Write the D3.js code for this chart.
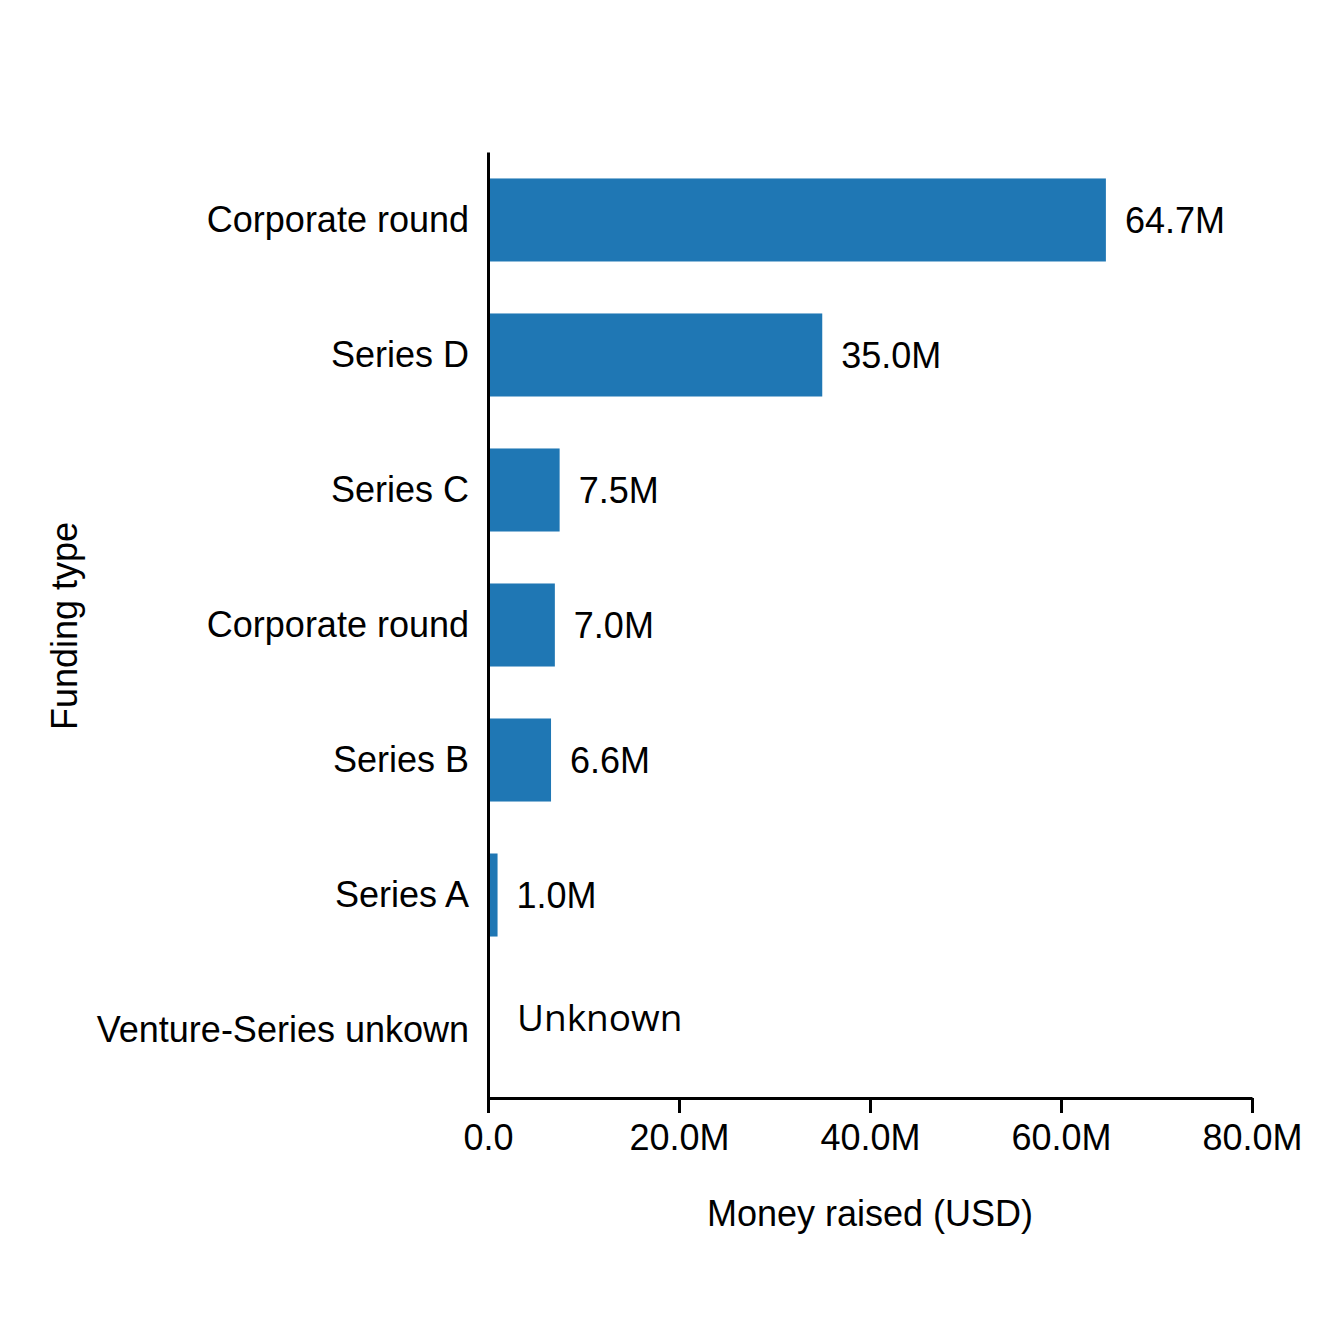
<!DOCTYPE html>
<html><head><meta charset="utf-8">
<script src="https://cdn.jsdelivr.net/npm/d3@7"></script>
<style>body{margin:0;background:#fff}svg{display:block}</style>
</head><body>
<svg id="c" width="1320" height="1320"></svg>
<script>
const categories = ["Corporate round","Series D","Series C","Corporate round","Series B","Series A","Venture-Series unkown"];
const values = [64.7, 35.0, 7.5, 7.0, 6.6, 1.0, null];
const valueLabels = ["64.7M","35.0M","7.5M","7.0M","6.6M","1.0M","Unknown"];
const xTicks = [0,20,40,60,80];
const xTickLabels = ["0.0","20.0M","40.0M","60.0M","80.0M"];

const svg = d3.select("#c");
const font = "Liberation Sans, Arial, sans-serif";
const fs = 36;
const x = d3.scaleLinear().domain([0,80]).range([488,1252]);
const y = d3.scaleBand().domain(d3.range(categories.length)).range([152,1098]).paddingInner(0.385).paddingOuter(0.196);

svg.append("rect").attr("width",1320).attr("height",1320).attr("fill","#fff");

svg.selectAll("rect.bar").data(values.map((v,i)=>({v,i})).filter(d=>d.v!=null))
  .enter().append("rect").attr("class","bar")
  .attr("x",x(0)).attr("y",d=>y(d.i)).attr("height",y.bandwidth())
  .attr("width",d=>x(d.v)-x(0)).attr("fill","#1f77b4");

// value labels
svg.selectAll("text.val").data(values.map((v,i)=>({v,i})))
  .enter().append("text").attr("class","val")
  .attr("x",d=>d.v==null ? x(0)+29 : x(d.v)+19)
  .attr("y",d=>y(d.i)+y.bandwidth()/2 + (d.v==null? -12:0))
  .attr("dy","0.36em")
  .attr("font-family",d=>d.v==null ? "Open Sans, Liberation Sans, sans-serif" : font)
  .attr("font-size",d=>d.v==null?37:fs).attr("fill","#000")
  .text(d=>valueLabels[d.i]);

// y axis
const yAxis = d3.axisLeft(y).tickSize(0).tickPadding(19).tickFormat(i=>categories[i]);
const gy = svg.append("g").attr("transform",`translate(${x(0)},0)`).call(yAxis);
gy.select(".domain").attr("stroke","#000").attr("stroke-width",3);
gy.selectAll("text").attr("font-family",font).attr("font-size",fs).attr("fill","#000");

// x axis
const xAxis = d3.axisBottom(x).tickValues(xTicks).tickSize(15).tickPadding(11).tickFormat((d,i)=>xTickLabels[i]).tickSizeOuter(0);
const gx = svg.append("g").attr("transform",`translate(0,1098)`).call(xAxis);
gx.select(".domain").attr("stroke","#000").attr("stroke-width",3);
gx.selectAll(".tick line").attr("stroke","#000").attr("stroke-width",3);
gx.selectAll("text").attr("font-family",font).attr("font-size",fs).attr("fill","#000");

svg.append("text").attr("x",870).attr("y",1226).attr("text-anchor","middle")
  .attr("font-family",font).attr("font-size",fs).text("Money raised (USD)");
svg.append("text").attr("transform","translate(77,626) rotate(-90)").attr("text-anchor","middle")
  .attr("font-family",font).attr("font-size",fs).text("Funding type");
</script>
</body></html>
